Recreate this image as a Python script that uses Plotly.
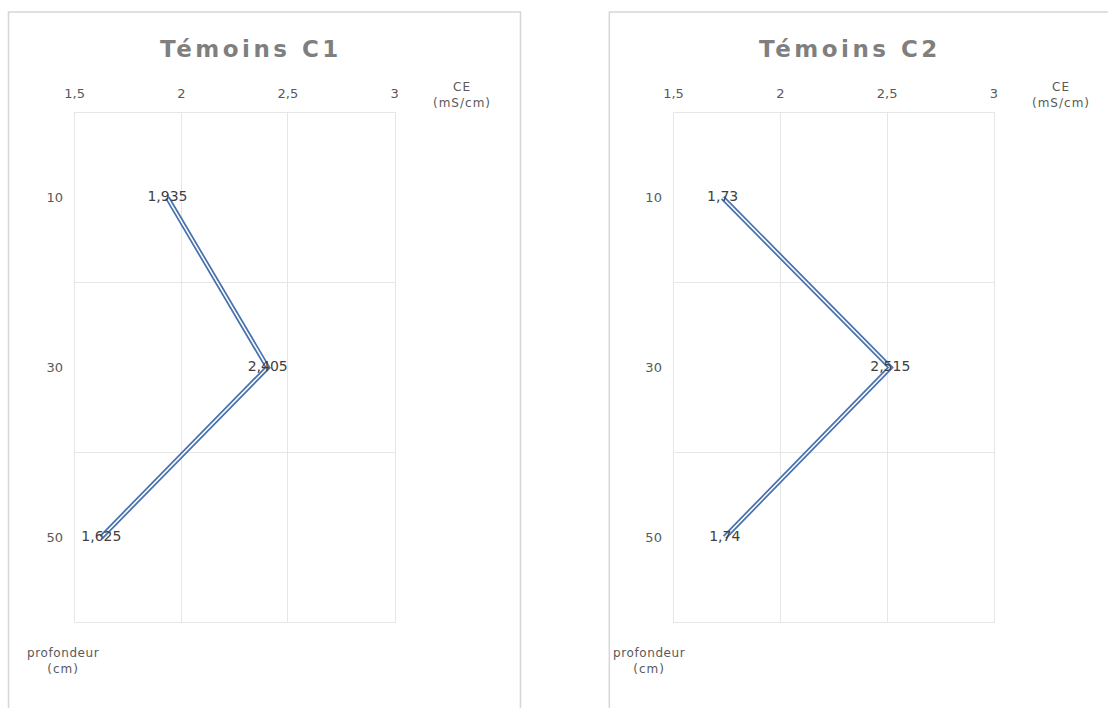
import plotly.graph_objects as go

# profondeur (cm) and conductivite CE (mS/cm)
depths = [10, 30, 50]
ce_c1 = [1.935, 2.405, 1.625]
ce_c2 = [1.73, 2.515, 1.74]
titles = ["Témoins C1", "Témoins C2"]
x_ticks = [1.5, 2, 2.5, 3]

W, H = 1108, 708
BLUE = "#4a72ad"
GRID = "#e6e6e6"
TXT = "#595959"
FONT = "DejaVu Sans"


def px(x):
    return x / W


def py(y):
    return 1 - y / H


def fmt(v):
    return str(v).replace(".", ",")


def spaced(t, s):
    return '<span style="letter-spacing:%spx">%s</span>' % (s, t)


fig = go.Figure()

panels = [
    dict(vals=ce_c1, xa="x", ya="y", dom=(65.5, 389.5), frame=(-1.5, 517), title_x=244, unit_x=458, prof_x=54),
    dict(vals=ce_c2, xa="x2", ya="y2", dom=(672, 996.5), frame=(607, 1125), title_x=850.5, unit_x=1064, prof_x=647),
]

for i, p in enumerate(panels):
    # double line : blue outer, white core
    fig.add_trace(go.Scatter(x=p["vals"], y=depths, mode="lines", xaxis=p["xa"], yaxis=p["ya"],
                             line=dict(color=BLUE, width=5), hoverinfo="skip", showlegend=False))
    fig.add_trace(go.Scatter(x=p["vals"], y=depths, mode="lines", xaxis=p["xa"], yaxis=p["ya"],
                             line=dict(color="white", width=1.5), showlegend=False))
    fig.add_trace(go.Scatter(x=p["vals"], y=depths, mode="text", xaxis=p["xa"], yaxis=p["ya"],
                             text=[fmt(v) for v in p["vals"]], textposition="middle center",
                             textfont=dict(family=FONT, size=14, color="#404040"),
                             hoverinfo="skip", showlegend=False))

    x0, x1 = p["dom"]
    fx0, fx1 = p["frame"]
    fig.add_shape(type="rect", xref="paper", yref="paper",
                  x0=px(fx0), x1=px(fx1), y0=py(730), y1=py(12),
                  line=dict(color="#d6d6d6", width=1.5), layer="below")

    fig.add_annotation(xref="paper", yref="paper", x=px(p["title_x"]), y=py(49),
                       xanchor="center", yanchor="middle",
                       text="<b>" + spaced(titles[i], 3.5) + "</b>", showarrow=False,
                       font=dict(family=FONT, size=23, color="#7f7f7f"))
    fig.add_annotation(xref="paper", yref="paper", x=px(p["unit_x"]), y=py(95),
                       xanchor="center", yanchor="middle",
                       text=spaced("CE", 1) + "<br>" + spaced("(mS/cm)", 1), showarrow=False,
                       align="center", font=dict(family=FONT, size=12, color=TXT))
    fig.add_annotation(xref="paper", yref="paper", x=px(p["prof_x"]), y=py(661),
                       xanchor="center", yanchor="middle",
                       text=spaced("profondeur", 0.6) + "<br>" + spaced("(cm)", 1), showarrow=False,
                       align="center", font=dict(family=FONT, size=12, color=TXT))

    suffix = "" if i == 0 else "2"
    fig.layout["xaxis" + suffix] = dict(
        domain=[px(x0), px(x1)], range=[1.5, 3], side="top", anchor="y" + suffix,
        tickvals=x_ticks, ticks="", showgrid=True, gridcolor=GRID, zeroline=False,
        showline=True, linecolor=GRID, mirror=True,
        tickfont=dict(family=FONT, size=13, color=TXT), ticklabelstandoff=9,
    )
    fig.layout["yaxis" + suffix] = dict(
        domain=[py(622), py(113)], range=[60, 0], anchor="x" + suffix,
        tickvals=depths, ticks="", showgrid=False, zeroline=False,
        showline=True, linecolor=GRID, mirror=True,
        minor=dict(tick0=0, dtick=20, showgrid=True, gridcolor=GRID, ticks=""),
        tickfont=dict(family=FONT, size=13, color=TXT), ticklabelstandoff=8,
    )

fig.update_layout(
    autosize=True,
    margin=dict(l=0, r=0, t=0, b=0),
    paper_bgcolor="white", plot_bgcolor="white",
    separators=", ",
    showlegend=False,
)

fig.write_html(
    "out.html",
    config={"displayModeBar": False},
    default_width="100vw", default_height="100vh",
    post_script=("document.body.style.margin='0';document.body.style.overflow='hidden';"
                 "var gd=document.getElementById('{plot_id}');Plotly.Plots.resize(gd);"),
)
